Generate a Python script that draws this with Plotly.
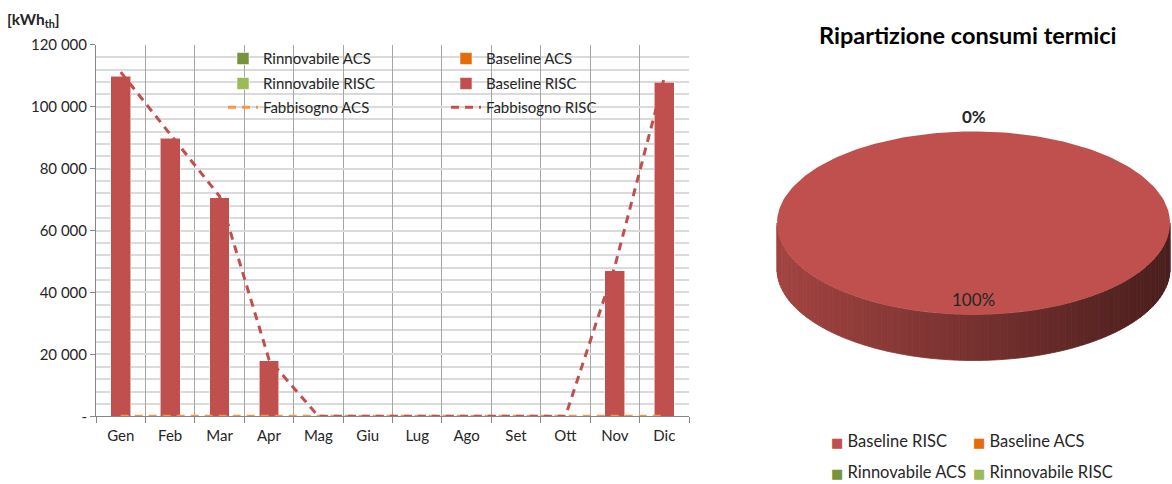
import numpy as np
import plotly.graph_objects as go

# ---- monthly data (kWh_th) ----
months = ["Gen", "Feb", "Mar", "Apr", "Mag", "Giu", "Lug", "Ago", "Set", "Ott", "Nov", "Dic"]
rinnovabile_acs = [0, 0, 0, 0, 0, 0, 0, 0, 0, 0, 0, 0]
baseline_acs = [0, 0, 0, 0, 0, 0, 0, 0, 0, 0, 0, 0]
rinnovabile_risc = [0, 0, 0, 0, 0, 0, 0, 0, 0, 0, 0, 0]
baseline_risc = [109800, 89900, 70600, 18000, 0, 0, 0, 0, 0, 0, 47000, 107900]
fabbisogno_acs = [0, 0, 0, 0, 0, 0, 0, 0, 0, 0, 0, 0]
fabbisogno_risc = [111200, 91000, 71100, 18400, 0, 0, 0, 0, 0, 0, 48500, 109500]

y_ticks = [0, 20000, 40000, 60000, 80000, 100000, 120000]

# ---- styling ----
FONT = "Lato"
TXT = "#262626"
C_RIN_ACS = "#77933C"
C_BASE_ACS = "#E46C0A"
C_RIN_RISC = "#9BBB59"
C_BASE_RISC = "#C0504D"
C_FAB_ACS = "#F79646"
C_FAB_RISC = "#C0504D"

W, H = 1172, 484
# drawing area of the page in pixels (page offset and usable height)
Y_OFF, H_EFF = 8.0, 468.0


def px_x(p):
    return p / W


def px_y(p):
    return 1 - (p - Y_OFF) / H_EFF


fig = go.Figure()

# stacked monthly bars
bar_series = [
    ("Rinnovabile ACS", rinnovabile_acs, C_RIN_ACS, "legend"),
    ("Baseline ACS", baseline_acs, C_BASE_ACS, "legend"),
    ("Rinnovabile RISC", rinnovabile_risc, C_RIN_RISC, "legend2"),
    ("Baseline RISC", baseline_risc, C_BASE_RISC, "legend2"),
]
for name, vals, col, lg in bar_series:
    fig.add_trace(go.Bar(
        x=months, y=vals, name=name, legend=lg,
        marker=dict(color=col, line=dict(color="rgba(255,255,255,0.55)", width=1)),
        hoverinfo="x+y+name",
    ))

# demand lines
for name, vals, col in [("Fabbisogno ACS", fabbisogno_acs, C_FAB_ACS),
                        ("Fabbisogno RISC", fabbisogno_risc, C_FAB_RISC)]:
    fig.add_trace(go.Scatter(
        x=months, y=vals, name=name, mode="lines", legend="legend3",
        line=dict(color=col, width=3, dash="8px,6px"),
    ))

# ---- 3D-style pie of yearly shares ----
slices = [
    ("Baseline RISC", sum(baseline_risc), C_BASE_RISC),
    ("Baseline ACS", sum(baseline_acs), C_BASE_ACS),
    ("Rinnovabile ACS", sum(rinnovabile_acs), C_RIN_ACS),
    ("Rinnovabile RISC", sum(rinnovabile_risc), C_RIN_RISC),
]
total = sum(s[1] for s in slices)
shares = [s[1] / total for s in slices]

# pie geometry in pixels (top face centre, radius, tilt, thickness)
CX, CY, R = 973.5, 222.0, 196.5
TILT = 92.0 / R
DEPTH = 46.0 / R
PX0, PX1, PY0, PY1 = 760, 1172, 100, 400


def hex_rgb(h):
    h = h.lstrip("#")
    return tuple(int(h[i:i + 2], 16) for i in (0, 2, 4))


def shade(col, f):
    r, g, b = hex_rgb(col)
    return "rgb(%d,%d,%d)" % (r * f, g * f, b * f)


# cumulative angles, clockwise from 12 o'clock
bounds = np.concatenate([[0], np.cumsum(shares)]) * 2 * np.pi


def screen_angle(a):
    return np.pi / 2 - a


def owner(a):
    a = a % (2 * np.pi)
    for i in range(len(slices)):
        if bounds[i] <= a < bounds[i + 1] and shares[i] > 0:
            return i
    return 0


# side wall: front half, drawn as thin strips with left-to-right shading
N_STRIP = 90
th = np.linspace(np.pi, 2 * np.pi, N_STRIP + 1)
for k in range(N_STRIP):
    t = np.linspace(th[k], th[k + 1], 4)
    xs_top = np.cos(t)
    ys_top = TILT * np.sin(t)
    xs = np.concatenate([xs_top, xs_top[::-1], [xs_top[0]]])
    ys = np.concatenate([ys_top, ys_top[::-1] - DEPTH, [ys_top[0]]])
    mid = 0.5 * (th[k] + th[k + 1])
    idx = owner(np.pi / 2 - mid)
    f = 0.62 - 0.23 * np.cos(mid)
    c = shade(slices[idx][2], f)
    fig.add_trace(go.Scatter(
        x=xs, y=ys, xaxis="x2", yaxis="y2", mode="lines", fill="toself",
        fillcolor=c, line=dict(color=c, width=0.8), showlegend=False, hoverinfo="skip",
    ))

# top face slices
for i, (name, val, col) in enumerate(slices):
    if shares[i] <= 0:
        continue
    a = np.linspace(bounds[i], bounds[i + 1], 240)
    t = screen_angle(a)
    xs = np.concatenate([[0], np.cos(t), [0]])
    ys = np.concatenate([[0], TILT * np.sin(t), [0]])
    fig.add_trace(go.Scatter(
        x=xs, y=ys, xaxis="x2", yaxis="y2", mode="lines", fill="toself",
        fillcolor=col, line=dict(color=col, width=0), showlegend=False,
        name=name, hoverinfo="name",
    ))

annotations = []

# percentage labels
zero_done = False
for i, (name, val, col) in enumerate(slices):
    mid = screen_angle(0.5 * (bounds[i] + bounds[i + 1]))
    pct = "%d%%" % round(shares[i] * 100)
    if shares[i] > 0.05:
        annotations.append(dict(
            x=0.83 * np.cos(mid), y=0.83 * TILT * np.sin(mid), xref="x2", yref="y2",
            text=pct, showarrow=False, font=dict(family=FONT, size=17, color=TXT),
        ))
    elif not zero_done:
        zero_done = True
        annotations.append(dict(
            x=1.16 * np.cos(mid), y=1.16 * TILT * np.sin(mid), xref="x2", yref="y2",
            text="<b>%s</b>" % pct, showarrow=False, font=dict(family=FONT, size=17, color=TXT),
        ))

# pie legend
pie_leg_pos = [(829, 441), (971, 441), (829, 472), (971, 472)]
for (name, val, col), (lx, ly) in zip(slices, pie_leg_pos):
    annotations.append(dict(
        x=px_x(lx), y=px_y(ly), xref="paper", yref="paper", xanchor="left", yanchor="middle",
        text="<span style='color:%s;font-family:DejaVu Sans;font-size:13px'>■</span> %s" % (col, name),
        showarrow=False, font=dict(family=FONT, size=16.5, color=TXT),
    ))

# pie title
annotations.append(dict(
    x=px_x(968), y=px_y(33), xref="paper", yref="paper", xanchor="center", yanchor="middle",
    text="<b>Ripartizione consumi termici</b>", showarrow=False,
    font=dict(family=FONT, size=23.5, color="#000000"),
))

# unit label of the bar chart
annotations.append(dict(
    x=px_x(5), y=px_y(18), xref="paper", yref="paper", xanchor="left", yanchor="middle",
    text="<b>[kWh<sub>th</sub>]</b>", showarrow=False,
    font=dict(family=FONT, size=15.5, color=TXT),
))

y_text = ["-" if v == 0 else "{:,}".format(v).replace(",", " ") for v in y_ticks]

legend_common = dict(
    orientation="h", xanchor="left", yanchor="middle", x=px_x(223),
    bgcolor="rgba(0,0,0,0)", font=dict(family=FONT, size=15, color=TXT),
    entrywidth=178, entrywidthmode="pixels", traceorder="normal",
)

fig.update_layout(
    width=W, height=H, margin=dict(l=0, r=0, t=0, b=0),
    paper_bgcolor="white", plot_bgcolor="white",
    barmode="stack", bargap=0.6,
    font=dict(family=FONT, size=14, color=TXT),
    legend=dict(legend_common, y=px_y(57)),
    legend2=dict(legend_common, y=px_y(82)),
    legend3=dict(legend_common, y=px_y(106)),
    xaxis=dict(
        domain=[px_x(96), px_x(689)], type="category", tickson="boundaries",
        showgrid=True, gridcolor="#a6a6a6", gridwidth=1,
        showline=True, linecolor="#868686", linewidth=1,
        ticks="outside", ticklen=6, tickcolor="#868686", ticklabelstandoff=6,
        tickfont=dict(family=FONT, size=15, color=TXT), fixedrange=True,
    ),
    yaxis=dict(
        domain=[px_y(416), px_y(43)], range=[0, 120000],
        tickvals=y_ticks, ticktext=y_text,
        showgrid=True, gridcolor="#dadada", gridwidth=2,
        minor=dict(dtick=4000, showgrid=True, gridcolor="#dadada", gridwidth=2),
        showline=True, linecolor="#868686", linewidth=1,
        ticks="outside", ticklen=5, tickcolor="#868686", zeroline=False,
        tickfont=dict(family=FONT, size=15, color=TXT), fixedrange=True,
    ),
    xaxis2=dict(
        domain=[px_x(PX0), px_x(PX1)], anchor="y2",
        range=[(PX0 - CX) / R, (PX1 - CX) / R],
        visible=False, fixedrange=True,
    ),
    yaxis2=dict(
        domain=[px_y(PY1), px_y(PY0)], anchor="x2",
        range=[-(PY1 - CY) / R, (CY - PY0) / R],
        visible=False, fixedrange=True,
    ),
    shapes=[dict(
        type="rect", xref="paper", yref="paper", layer="between",
        x0=px_x(183), x1=px_x(628), y0=px_y(118), y1=px_y(45),
        fillcolor="white", line=dict(width=0),
    )],
    annotations=annotations,
    showlegend=True,
)

fig.write_html("out.html")
